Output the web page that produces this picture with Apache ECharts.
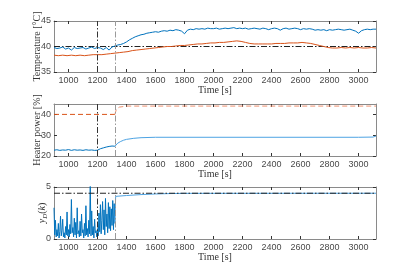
<!DOCTYPE html>
<html><head><meta charset="utf-8">
<script src="https://cdn.jsdelivr.net/npm/echarts@6/dist/echarts.min.js"></script>
<style>html,body{margin:0;padding:0;background:#fff}#c{width:415px;height:277px}</style>
</head><body><div id="c"></div>
<script>
// ---- data ----
const timeTicks = [1000,1200,1400,1600,1800,2000,2200,2400,2600,2800,3000];
const tempTicks = [35,40,45];
const powerTicks = [20,30,40];
const ydTicks = [0,5];
const switchTimes = [1200, 1320];
const tempRef = [[900,40],[3120,40]];
const tempBlue = [[900,39.8],[920,39.6],[940,39.7],[960,39.9],[980,39.5],[1000,39.7],[1020,39.3],[1040,39.8],[1060,39.6],[1080,39.7],[1100,39.8],[1120,39.5],[1140,39.7],[1160,39.9],[1180,39.6],[1200,39.8],[1220,39.7],[1240,39.4],[1260,39.8],[1280,39.3],[1300,39.9],
[1320,40.1],[1340,40.3],[1360,40.4],[1380,40.6],[1400,40.9],[1420,41.3],[1440,41.6],[1460,41.9],[1480,42.1],[1500,42.3],[1520,42.4],[1540,42.6],[1560,42.7],[1580,42.8],[1600,42.9],[1620,42.8],[1640,43.0],[1660,43.1],[1680,43.0],[1700,43.2],[1720,43.1],[1740,43.3],[1760,43.2],[1780,43.0],[1800,42.5],[1820,43.2],[1840,43.4],[1860,43.3],[1880,43.5],[1900,43.4],[1920,43.5],[1940,43.4],[1960,43.6],[1980,43.5],[2000,43.5],[2020,43.6],[2040,43.4],[2060,43.5],[2080,43.6],[2100,43.5],[2120,43.6],[2140,43.7],[2160,43.5],[2180,43.6],[2200,43.5],[2220,43.6],[2240,43.4],[2260,43.5],[2280,43.6],[2300,43.5],[2320,43.4],[2340,43.6],[2360,43.5],[2380,43.3],[2400,43.5],[2420,43.6],[2440,43.5],[2460,43.2],[2480,43.5],[2500,43.6],[2520,43.4],[2540,43.5],[2560,43.6],[2580,43.5],[2600,43.3],[2620,43.5],[2640,43.4],[2660,43.5],[2680,43.4],[2700,43.2],[2720,43.3],[2740,43.2],[2760,43.3],[2780,43.1],[2800,43.3],[2820,43.2],[2840,43.3],[2860,43.4],[2880,43.3],[2900,43.2],[2920,43.3],[2940,43.4],[2960,43.2],[2980,43.0],[3000,42.6],[3020,43.1],[3040,43.3],[3060,43.4],[3080,43.3],[3100,43.4],[3120,43.4]];
const tempOrange = [[900,38.3],[930,38.2],[960,38.3],[990,38.2],[1020,38.3],[1050,38.2],[1080,38.3],[1110,38.2],[1140,38.3],[1170,38.4],[1200,38.4],[1230,38.4],[1260,38.5],[1290,38.6],[1320,38.7],[1350,38.8],[1380,38.9],[1410,39.0],[1440,39.2],[1470,39.3],[1500,39.4],[1530,39.5],[1560,39.6],[1590,39.7],[1620,39.8],[1650,39.9],[1680,40.0],[1710,40.0],[1740,40.1],[1770,40.2],[1800,40.2],[1830,40.3],[1860,40.4],[1890,40.5],[1920,40.5],[1950,40.6],[1980,40.7],[2010,40.7],[2040,40.8],[2070,40.8],[2100,40.9],[2130,41.0],[2160,41.1],[2190,41.0],[2220,40.8],[2250,40.6],[2280,40.5],[2310,40.5],[2340,40.5],[2370,40.5],[2400,40.5],[2430,40.6],[2460,40.6],[2490,40.6],[2520,40.7],[2550,40.7],[2580,40.7],[2610,40.8],[2640,40.7],[2670,40.6],[2700,40.4],[2730,40.2],[2760,40.0],[2790,39.8],[2820,39.7],[2850,39.7],[2880,39.8],[2910,39.7],[2940,39.8],[2970,39.7],[3000,39.8],[3030,39.7],[3060,39.7],[3090,39.8],[3120,39.7]];
const powerOrangeA = [[900,40],[1320,40]];
const powerOrangeB = [[1320,40],[1330,42.5],[1350,43.5],[1400,44],[3120,44]];
const powerBlueA = [[900,22.8],[920,23.0],[940,22.7],[960,22.9],[980,22.8],[1000,23.1],[1020,22.7],[1040,23.0],[1060,22.8],[1080,22.9],[1100,22.7],[1120,23.0],[1140,22.8],[1160,22.9],[1180,22.7],[1200,22.8],[1220,23.5],[1240,23.9],[1260,24.3],[1280,24.6],[1300,24.8],[1320,24.7]];
const powerBlueB = [[1320,24.7],[1330,25.6],[1340,26.2],[1360,27.0],[1380,27.6],[1400,28.0],[1450,28.5],[1500,28.8],[1600,29.0],[3000,29.0],[3100,29.1],[3120,29.6]];
const ydRef = [[900,4.4],[3120,4.4]];
const ydA = [[900,3.0],[905,0.4],[910,1.8],[915,0.2],[920,0.9],[925,0.3],[930,1.5],[935,0.1],[940,0.7],[945,2.2],[950,0.3],[955,0.8],[960,1.9],[965,0.2],[970,0.6],[975,0.1],[980,1.2],[985,0.4],[990,2.6],[995,0.3],[1000,0.9],[1005,0.2],[1010,1.4],[1015,0.5],[1020,3.8],[1025,0.6],[1030,1.1],[1035,0.2],[1040,2.0],[1045,0.4],[1050,1.6],[1055,0.1],[1060,3.0],[1065,0.5],[1070,0.8],[1075,0.2],[1080,1.7],[1085,0.3],[1090,2.4],[1095,0.6],[1100,0.9],[1105,0.1],[1110,1.5],[1115,0.3],[1120,3.2],[1125,0.4],[1130,1.0],[1135,0.2],[1140,1.8],[1145,0.5],[1150,5.3],[1155,0.3],[1160,2.7],[1165,0.4],[1170,1.2],[1175,0.1],[1180,1.9],[1185,0.6],[1190,0.8],[1195,0.2],[1200,1.0],[1205,0.3],[1210,2.5],[1215,0.7],[1220,3.3],[1225,0.5],[1230,1.8],[1235,3.6],[1240,0.9],[1245,2.8],[1250,0.4],[1255,3.9],[1260,1.2],[1265,2.4],[1270,0.6],[1275,3.5],[1280,1.0],[1285,3.1],[1290,0.8],[1295,2.9],[1300,1.3],[1305,3.7],[1310,0.9],[1315,3.4],[1320,1.5]];
const ydB = [[1320,1.5],[1325,4.1],[1400,4.18],[1500,4.27],[1600,4.33],[1700,4.37],[1800,4.39],[3120,4.4]];

// ---- chart ----
const BLUE='#0072BD', LBLUE='#4DA3E3', ORANGE='#D95319', LORANGE='#EE9270';
const frame='#8a8a8a', tickTxt='#4a4a4a';
const serif='"Liberation Serif","DejaVu Serif",serif';
const sans='"Liberation Sans",Arial,sans-serif';
const grids=[{top:21,height:51},{top:104,height:52},{top:187,height:52}];
const xMin=900,xMax=3120;
const xAxes=[],yAxes=[];
const fmt=v=>String(v);
const yDefs=[{min:35,max:45,ticks:tempTicks,name:'Temperature [°C]',gap:12},{min:20,max:45,ticks:powerTicks,name:'Heater power [%]',gap:12},{min:0,max:5,ticks:ydTicks,name:'{a|y}{b|D}{c|(}{a|k}{c|)}',gap:5}];
grids.forEach((g,i)=>{
  xAxes.push({type:'value',gridIndex:i,min:xMin,max:xMax,position:'bottom',
    name:'Time [s]',nameLocation:'middle',nameGap:13,nameMoveOverlap:false,nameTextStyle:{fontFamily:serif,fontSize:10,color:'#333'},
    axisLine:{show:true,onZero:false,lineStyle:{color:frame,width:1}},
    axisTick:{inside:true,length:3,customValues:timeTicks,lineStyle:{color:'#333'}},
    axisLabel:{customValues:timeTicks,formatter:fmt,fontFamily:sans,fontSize:9,color:tickTxt,margin:4},
    splitLine:{show:false}});
  xAxes.push({type:'value',gridIndex:i,min:xMin,max:xMax,position:'top',
    axisLine:{show:true,onZero:false,lineStyle:{color:frame,width:1}},
    axisTick:{inside:true,length:3,customValues:timeTicks,lineStyle:{color:'#333'}},
    axisLabel:{show:false},splitLine:{show:false}});
  const d=yDefs[i];
  const y={type:'value',gridIndex:i,min:d.min,max:d.max,position:'left',
    name:d.name,nameLocation:'middle',nameGap:d.gap,nameRotate:90,nameMoveOverlap:false,
    nameTextStyle:{fontFamily:serif,fontSize:10,color:'#333'},
    axisLine:{show:true,onZero:false,lineStyle:{color:frame,width:1}},
    axisTick:{inside:true,length:3,customValues:d.ticks,lineStyle:{color:'#333'}},
    axisLabel:{customValues:d.ticks,formatter:fmt,fontFamily:sans,fontSize:9,color:tickTxt,margin:3},
    splitLine:{show:false}};
  if(i===2){y.nameTextStyle.rich={a:{fontFamily:serif,fontStyle:'italic',fontSize:10,color:'#333'},b:{fontFamily:serif,fontStyle:'italic',fontSize:7,color:'#333',verticalAlign:'bottom',lineHeight:14},c:{fontFamily:serif,fontSize:10,color:'#333'}};}
  yAxes.push(y);
  yAxes.push({type:'value',gridIndex:i,min:d.min,max:d.max,position:'right',
    axisLine:{show:true,onZero:false,lineStyle:{color:frame,width:1}},
    axisTick:{inside:true,length:3,customValues:d.ticks,lineStyle:{color:'#333'}},
    axisLabel:{show:false},splitLine:{show:false}});
});
const dashDot=[6,2,1.5,2];
function vlines(){return {silent:true,symbol:'none',label:{show:false},animation:false,
  data:[{xAxis:switchTimes[0],lineStyle:{color:'#333',type:dashDot,width:1}},{xAxis:switchTimes[1],lineStyle:{color:'#9a9a9a',type:dashDot,width:1}}]};}
function line(data,xi,yi,color,extra){return Object.assign({type:'line',data:data,xAxisIndex:xi,yAxisIndex:yi,showSymbol:false,symbol:'none',
  lineStyle:{color:color,width:1},itemStyle:{color:color},animation:false,silent:true},extra||{});}
const series=[
  line(tempRef,0,0,'#222',{lineStyle:{color:'#222',width:1,type:dashDot},markLine:vlines()}),
  line(tempOrange,0,0,ORANGE),
  line(tempBlue,0,0,BLUE),
  line(powerOrangeA,2,2,ORANGE,{lineStyle:{color:ORANGE,width:1,type:[5,3]},markLine:vlines()}),
  line(powerOrangeB,2,2,LORANGE,{lineStyle:{color:LORANGE,width:1,type:[5,3]}}),
  line(powerBlueA,2,2,BLUE),
  line(powerBlueB,2,2,LBLUE),
  line(ydA,4,4,BLUE,{markLine:vlines()}),
  line(ydB,4,4,LBLUE),
  line(ydRef,4,4,'#222',{lineStyle:{color:'#222',width:1,type:dashDot}})
];
const chart=echarts.init(document.getElementById('c'),null,{renderer:'canvas'});
chart.setOption({animation:false,backgroundColor:'#fff',
  grid:grids.map(g=>({left:54,width:322,top:g.top,height:g.height,containLabel:false})),
  xAxis:xAxes,yAxis:yAxes,series:series});
</script></body></html>
